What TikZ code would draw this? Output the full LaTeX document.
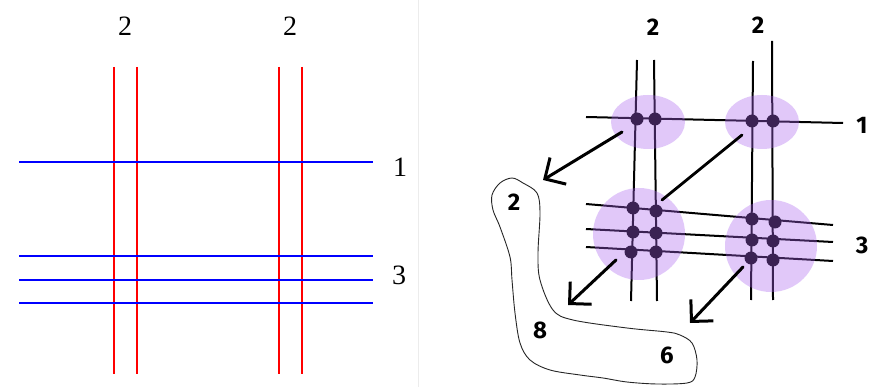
\documentclass[tikz,border=0pt]{standalone}
\usepackage{fontspec}
\setmainfont{Liberation Serif}
\newfontfamily\handfont{Fira Sans}
\usetikzlibrary{arrows.meta}
\definecolor{lilac}{RGB}{170,100,240}
\begin{document}
\begin{tikzpicture}[x=1pt,y=-1pt,
  redline/.style={draw=red, line width=2pt},
  blueline/.style={draw=blue, line width=2pt},
  serifnum/.style={font=\fontsize{28}{28}\selectfont, inner sep=0pt},
  wire/.style={draw=black, line width=2pt},
  hand/.style={font=\handfont\bfseries\fontsize{24}{24}\selectfont, inner sep=0pt},
  halo/.style={fill=lilac, fill opacity=0.35, draw=none},
  joint/.style={circle, fill=black, inner sep=0pt, minimum size=13pt},
  arr/.style={draw=black, line width=3pt, line cap=round, -{Straight Barb[angle=90:22pt]}},
  plainarr/.style={draw=black, line width=2.8pt, line cap=round},
  outline/.style={draw=black!85, line width=0.9pt}
]
\useasboundingbox (0,0) rectangle (883,387);
\fill[white] (0,0) rectangle (883,387);
\draw[gray!15, line width=1pt] (418,0) -- (418,387);

% ---------- left panel ----------
\foreach \x in {114,137,279,302} \draw[redline] (\x,67) -- (\x,374);
\foreach \y in {162,256,280,303} \draw[blueline] (19,\y) -- (373,\y);
\node[serifnum] (lt1) at (125,26) {2};
\node[serifnum] (lt2) at (290,26) {2};
\node[serifnum] (lr1) at (400,167) {1};
\node[serifnum] (lr3) at (399,275) {3};

% ---------- right panel ----------
\draw[wire] (637,60) -- (631,301);
\draw[wire] (654,60) -- (657,301);
\draw[wire] (753,61) -- (751,300);
\draw[wire] (772,41) -- (773,300);
\draw[wire] (586,117) -- (843,123);
\draw[wire] (586,204) -- (833,225);
\draw[wire] (586,229) -- (833,242);
\draw[wire] (586,247) -- (833,261);

\foreach \p [count=\i] in {(637,119),(655,119),(752,121),(773,121),
  (633,208),(656,211),(633,232),(656,233),(631,252),(656,252),
  (752,219),(775,222),(752,240),(773,241),(751,258),(773,260)}
  \node[joint] (d\i) at \p {};

\fill[halo] (648,122) ellipse [x radius=37, y radius=27];
\fill[halo] (762,122) ellipse [x radius=37, y radius=27];
\fill[halo] (639,234) circle [radius=46];
\fill[halo] (771,246) circle [radius=46];

\coordinate (a1s) at (622,132); \coordinate (a1e) at (543,180);
\coordinate (a2s) at (742,135); \coordinate (a2e) at (662,200);
\coordinate (a3s) at (616,260); \coordinate (a3e) at (568,305);
\coordinate (a4s) at (743,267); \coordinate (a4e) at (690,323);
\draw[arr] (a1s) -- (a1e);
\draw[plainarr] (a2s) -- (a2e);
\draw[arr] (a3s) -- (a3e);
\draw[arr] (a4s) -- (a4e);

\draw[outline] plot[smooth cycle, tension=0.55] coordinates {
  (500,183) (492,195) (493,210) (500,227) (510,257) (512,280) (515,313)
  (520,343) (530,360) (550,370) (580,375) (603,378) (627,382) (657,384)
  (687,383) (695,377) (697,360) (692,343) (680,335) (667,332) (627,328)
  (573,320) (553,310) (540,280) (538,253) (540,213) (537,193) (523,183)
  (512,178)};

\node[hand] (rt1) at (653,27) {2};
\node[hand] (rt2) at (758,25) {2};
\node[hand] (rr1) at (862,125) {1};
\node[hand] (rr3) at (862,245) {3};
\node[hand] (b2) at (514,202) {2};
\node[hand] (b8) at (540,330) {8};
\node[hand] (b6) at (667,355) {6};
\end{tikzpicture}
\end{document}
